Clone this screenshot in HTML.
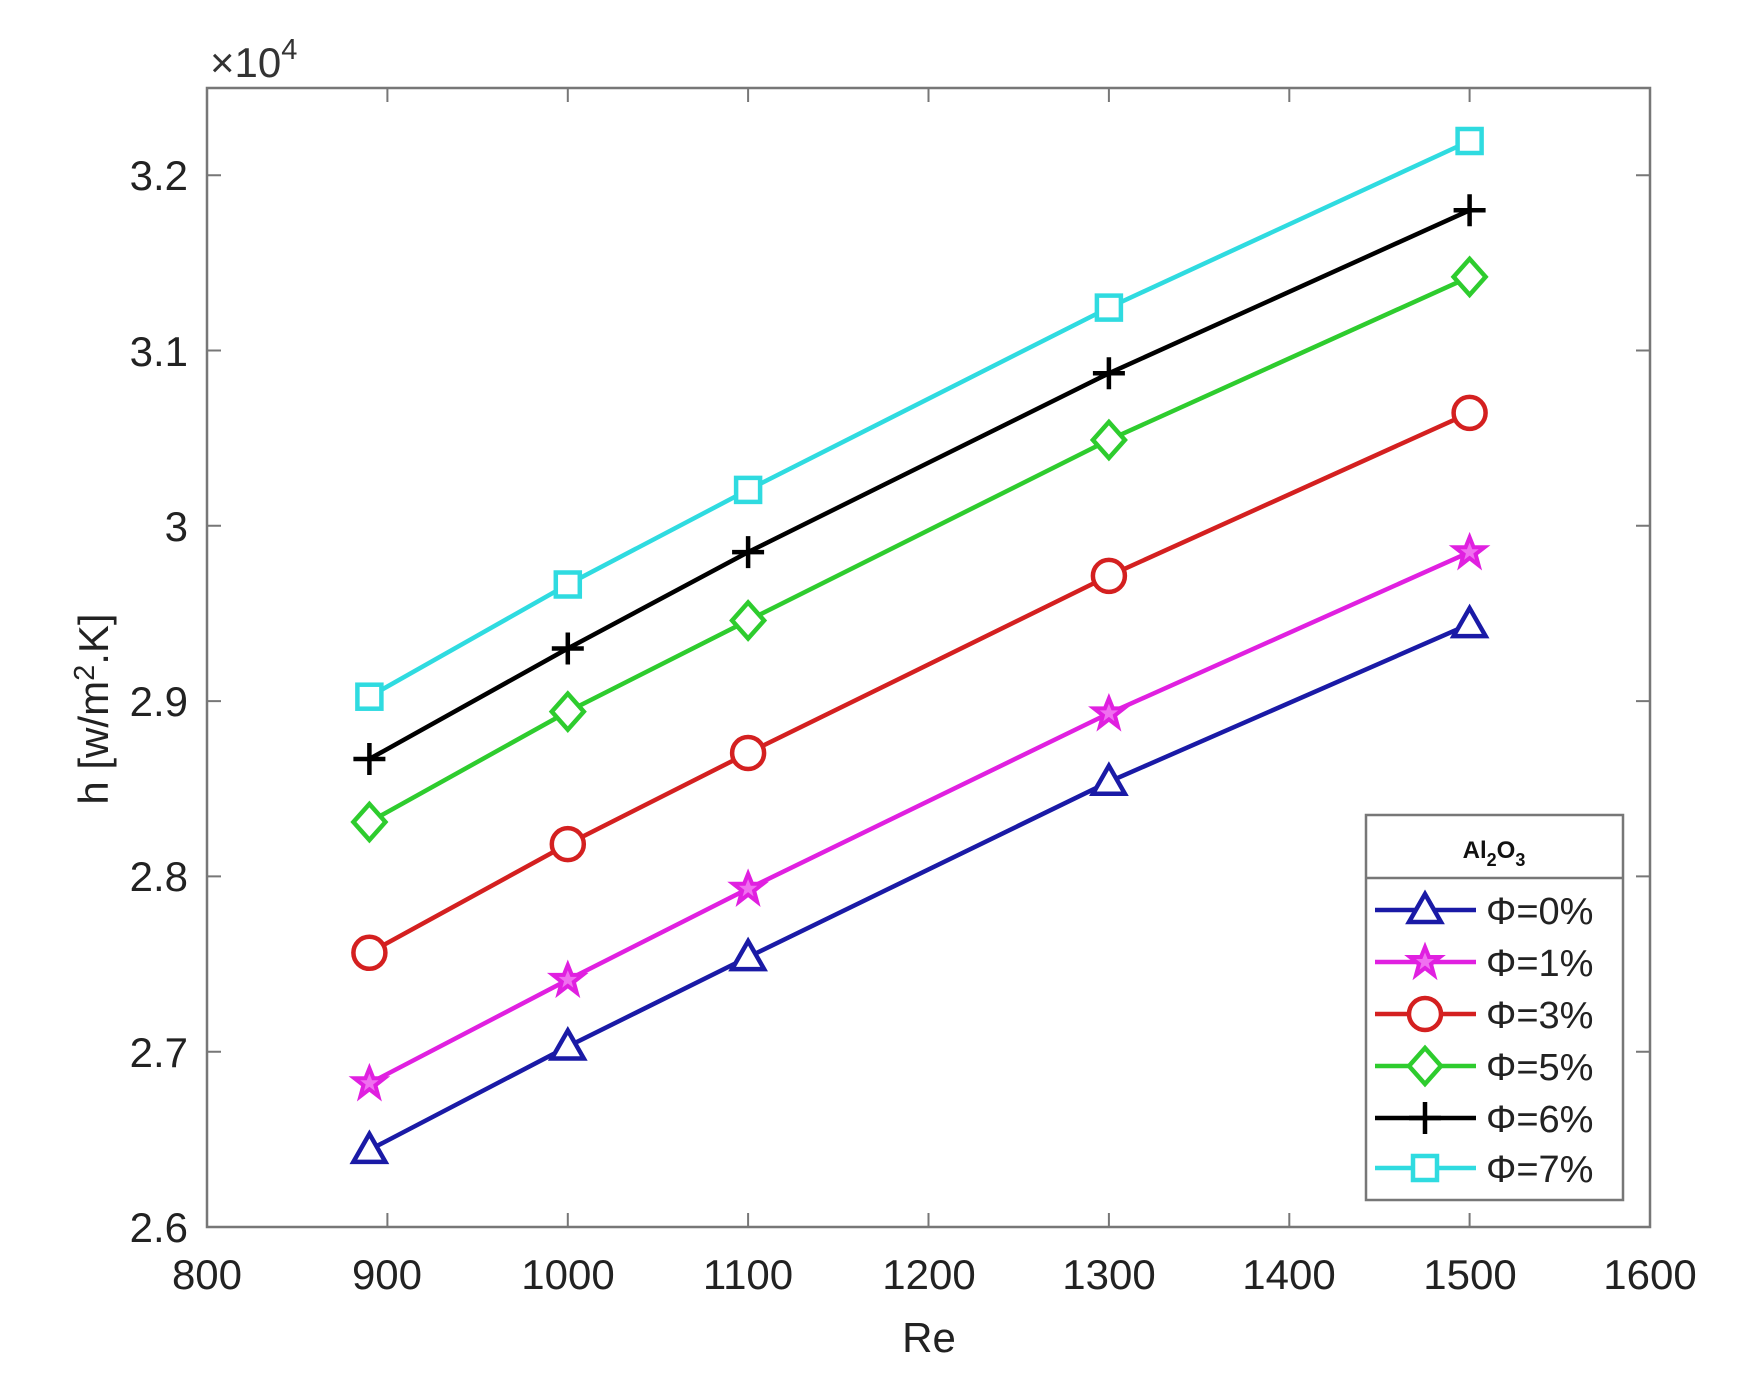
<!DOCTYPE html>
<html><head><meta charset="utf-8"><style>html,body{margin:0;padding:0;background:#fff}svg{display:block}</style></head>
<body>
<svg width="1744" height="1390" viewBox="0 0 1744 1390" xmlns="http://www.w3.org/2000/svg" font-family="Liberation Sans, sans-serif">
<defs>
<g id="tri"><path d="M0,-16 L16,12 L-16,12 Z" fill="#fff" stroke="#1a1aa6" stroke-width="4.5"/></g>
<g id="star"><path d="M0,-15 L4,-5 L15,-5 L6,2 L9,13 L0,6 L-9,13 L-6,2 L-15,-5 L-4,-5 Z" fill="#f070f0" stroke="#e020e0" stroke-width="4"/></g>
<g id="circ"><circle r="16" fill="#fff" stroke="#d42020" stroke-width="4.5"/></g>
<g id="dia"><path d="M0,-18 L16,0 L0,18 L-16,0 Z" fill="#fff" stroke="#2ecc2e" stroke-width="4.5"/></g>
<g id="plus"><path d="M-16,0 H16 M0,-16 V16" stroke="#000" stroke-width="4.5"/></g>
<g id="sq"><rect x="-12" y="-12" width="24" height="24" fill="#fff" stroke="#2fdbe0" stroke-width="4.5"/></g>
</defs>
<rect x="207" y="88" width="1443" height="1139" fill="#fff" stroke="#777" stroke-width="2.5"/>
<g stroke="#777" stroke-width="2">
<path d="M387.4,1227v-14M567.8,1227v-14M748.1,1227v-14M928.5,1227v-14M1108.9,1227v-14M1289.3,1227v-14M1469.6,1227v-14"/>
<path d="M387.4,88v14M567.8,88v14M748.1,88v14M928.5,88v14M1108.9,88v14M1289.3,88v14M1469.6,88v14"/>
<path d="M207,1051.7h14M207,876.4h14M207,701.1h14M207,525.8h14M207,350.5h14M207,175.2h14"/>
<path d="M1650,1051.7h-14M1650,876.4h-14M1650,701.1h-14M1650,525.8h-14M1650,350.5h-14M1650,175.2h-14"/>
</g>
<g font-size="42" fill="#222" text-anchor="middle">
<text x="207" y="1289">800</text><text x="387" y="1289">900</text><text x="568" y="1289">1000</text><text x="748" y="1289">1100</text><text x="929" y="1289">1200</text><text x="1109" y="1289">1300</text><text x="1289" y="1289">1400</text><text x="1470" y="1289">1500</text><text x="1650" y="1289">1600</text>
<text x="929" y="1352">Re</text>
</g>
<g font-size="42" fill="#222" text-anchor="end">
<text x="188" y="1242">2.6</text><text x="188" y="1067">2.7</text><text x="188" y="891">2.8</text><text x="188" y="716">2.9</text><text x="188" y="541">3</text><text x="188" y="366">3.1</text><text x="188" y="190">3.2</text>
</g>
<text x="210" y="77" font-size="42" fill="#333">×10<tspan dy="-18" font-size="29">4</tspan></text>
<text transform="translate(108,709) rotate(-90)" font-size="42" fill="#222" text-anchor="middle">h [w/m<tspan dy="-14" font-size="29">2</tspan><tspan dy="14">.K]</tspan></text>
<g fill="none" stroke-width="4.5">
<polyline stroke="#1a1aa6" points="369.4,1149.9 567.8,1046.5 748.1,957.1 1108.9,781.8 1469.6,624.1"/>
<polyline stroke="#e020e0" points="369.4,1083.3 567.8,979.9 748.1,888.7 1108.9,713.4 1469.6,552.2"/>
<polyline stroke="#d42020" points="369.4,952.8 567.8,844.1 748.1,753.0 1108.9,575.9 1469.6,412.9"/>
<polyline stroke="#2ecc2e" points="369.4,822.0 567.8,711.6 748.1,620.5 1108.9,440.0 1469.6,276.9"/>
<polyline stroke="#000" points="369.4,759.0 567.8,648.5 748.1,552.1 1108.9,373.3 1469.6,210.3"/>
<polyline stroke="#2fdbe0" points="369.4,696.7 567.8,584.5 748.1,489.9 1108.9,307.6 1469.6,141.0"/>
</g>
<g>
<use href="#tri" x="369.4" y="1149.9"/><use href="#tri" x="567.8" y="1046.5"/><use href="#tri" x="748.1" y="957.1"/><use href="#tri" x="1108.9" y="781.8"/><use href="#tri" x="1469.6" y="624.1"/>
<use href="#star" x="369.4" y="1083.3"/><use href="#star" x="567.8" y="979.9"/><use href="#star" x="748.1" y="888.7"/><use href="#star" x="1108.9" y="713.4"/><use href="#star" x="1469.6" y="552.2"/>
<use href="#circ" x="369.4" y="952.8"/><use href="#circ" x="567.8" y="844.1"/><use href="#circ" x="748.1" y="753.0"/><use href="#circ" x="1108.9" y="575.9"/><use href="#circ" x="1469.6" y="412.9"/>
<use href="#dia" x="369.4" y="822.0"/><use href="#dia" x="567.8" y="711.6"/><use href="#dia" x="748.1" y="620.5"/><use href="#dia" x="1108.9" y="440.0"/><use href="#dia" x="1469.6" y="276.9"/>
<use href="#plus" x="369.4" y="759.0"/><use href="#plus" x="567.8" y="648.5"/><use href="#plus" x="748.1" y="552.1"/><use href="#plus" x="1108.9" y="373.3"/><use href="#plus" x="1469.6" y="210.3"/>
<use href="#sq" x="369.4" y="696.7"/><use href="#sq" x="567.8" y="584.5"/><use href="#sq" x="748.1" y="489.9"/><use href="#sq" x="1108.9" y="307.6"/><use href="#sq" x="1469.6" y="141.0"/>
</g>
<rect x="1366" y="815" width="257" height="385" fill="#fff" stroke="#777" stroke-width="2.5"/>
<line x1="1366" y1="878" x2="1623" y2="878" stroke="#777" stroke-width="2.5"/>
<text x="1494" y="858" font-size="24" font-weight="bold" text-anchor="middle" fill="#111">Al<tspan dy="8" font-size="18">2</tspan><tspan dy="-8">O</tspan><tspan dy="8" font-size="18">3</tspan></text>
<g stroke-width="4.5">
<line x1="1375" y1="910" x2="1476" y2="910" stroke="#1a1aa6"/><use href="#tri" x="1425" y="910"/>
<line x1="1375" y1="962" x2="1476" y2="962" stroke="#e020e0"/><use href="#star" x="1425" y="962"/>
<line x1="1375" y1="1014" x2="1476" y2="1014" stroke="#d42020"/><use href="#circ" x="1425" y="1014"/>
<line x1="1375" y1="1066" x2="1476" y2="1066" stroke="#2ecc2e"/><use href="#dia" x="1425" y="1066"/>
<line x1="1375" y1="1118" x2="1476" y2="1118" stroke="#000"/><use href="#plus" x="1425" y="1118"/>
<line x1="1375" y1="1168" x2="1476" y2="1168" stroke="#2fdbe0"/><use href="#sq" x="1425" y="1168"/>
</g>
<g font-size="38" fill="#222">
<text x="1486" y="924">Φ=0%</text><text x="1486" y="976">Φ=1%</text><text x="1486" y="1028">Φ=3%</text><text x="1486" y="1080">Φ=5%</text><text x="1486" y="1132">Φ=6%</text><text x="1486" y="1182">Φ=7%</text>
</g>
</svg>
</body></html>
